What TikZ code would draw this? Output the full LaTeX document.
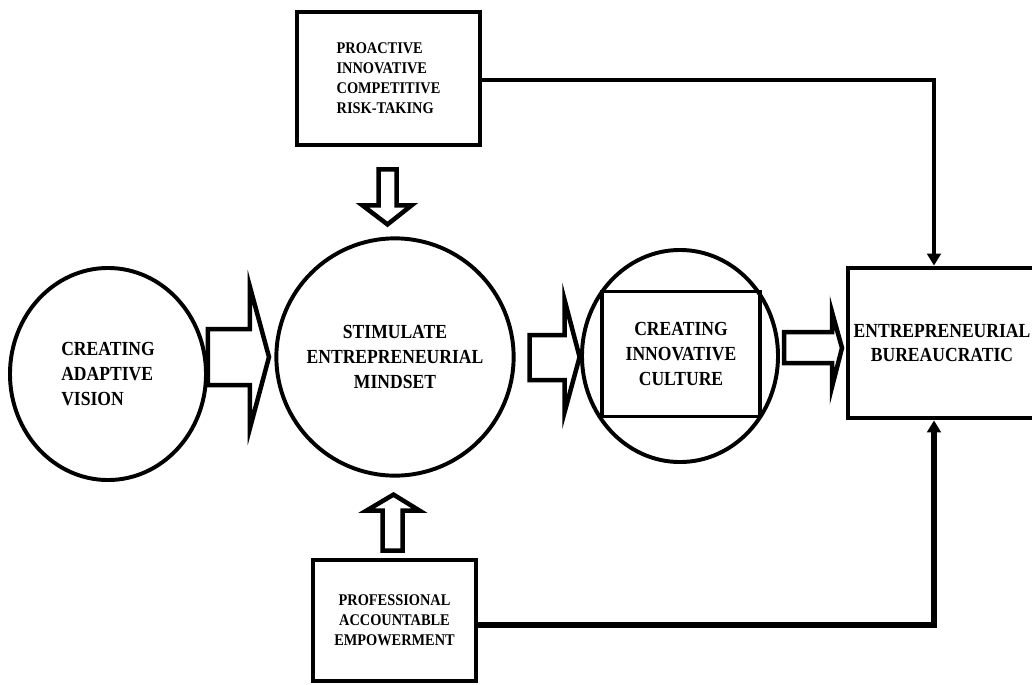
\documentclass[tikz,border=0pt]{standalone}
\usepackage{fontspec}
\setmainfont[FakeStretch=0.88]{Liberation Serif}
\usetikzlibrary{shapes.geometric,arrows.meta}

\begin{document}
\begin{tikzpicture}[x=0.025cm, y=-0.025cm,
  bigtext/.style={font=\bfseries\fontsize{14.2}{17.7}\selectfont},
  smalltext/.style={font=\bfseries\fontsize{11.6}{14.2}\selectfont},
  roundbox/.style={draw, line width=2.8pt, inner sep=0pt},
  squarebox/.style={draw, rectangle, line width=3.4pt, inner sep=0pt},
  hollow/.style={draw, line width=3.2pt, fill=white, line join=miter},
  link/.style={-{Triangle[length=0.3cm,width=0.34cm]}, line width=2.8pt}]
\clip (0,0) rectangle (1032,684);
\fill [white] (0,0) rectangle (1032,684);

\node (vision) [roundbox, ellipse, bigtext, align=left, minimum width=4.9cm, minimum height=5.3cm] at (108,374) {CREATING\\ADAPTIVE\\VISION};
\node (mindset) [roundbox, circle, bigtext, align=center, minimum size=5.93cm] at (395,357) {STIMULATE\\ENTREPRENEURIAL\\MINDSET};
\node (culture) [roundbox, ellipse, minimum width=4.9cm, minimum height=5.3cm] at (680,356) {};
\node (culturebox) [squarebox, line width=2.8pt, bigtext, align=center, minimum width=3.95cm, minimum height=3.125cm] at (681,354) {CREATING\\INNOVATIVE\\CULTURE};
\node (bureau) [squarebox, bigtext, align=center, minimum width=4.7cm, minimum height=3.75cm] at (942,343) {ENTREPRENEURIAL\\BUREAUCRATIC};
\node (traits) [squarebox, smalltext, align=left, minimum width=4.575cm, minimum height=3.325cm] at (388.5,78.5) {PROACTIVE\\INNOVATIVE\\COMPETITIVE\\RISK-TAKING};
\node (prof) [squarebox, smalltext, align=center, minimum width=4.075cm, minimum height=3.025cm] at (394.5,620.5) {PROFESSIONAL\\ACCOUNTABLE\\EMPOWERMENT};

\draw [hollow] (vision.east |- mindset) ++(0,-28) -- ++(42,0) -- ++(0,-42) -- ++(19,70) -- ++(-19,71) -- ++(0,-43) -- ++(-42,0) -- cycle;
\draw [hollow] (mindset.east) ++(14,-22) -- ++(35,0) -- ++(0,-35) -- ++(15,57) -- ++(-15,55) -- ++(0,-32) -- ++(-35,0) -- cycle;
\draw [hollow] (culture.east) ++(4,-24) -- ++(48,0) -- ++(0,-20) -- ++(10,36) -- ++(-10,39) -- ++(0,-24) -- ++(-48,0) -- cycle;
\draw [hollow] (traits.south) ++(-10,22) -- ++(18,0) -- ++(0,36) -- ++(15,0) -- ++(-24,19) -- ++(-25,-19) -- ++(16,0) -- cycle;
\draw [hollow] (prof.north) ++(-12,-7) -- ++(20,0) -- ++(0,-40) -- ++(17,0) -- ++(-26,-16) -- ++(-27,16) -- ++(16,0) -- cycle;

\coordinate (topbend) at (934,80);
\coordinate (botbend) at (934,625);
\draw [link] (traits.east |- topbend) -- (topbend) -- (topbend |- bureau.north);
\draw [link, line width=4pt] (prof.east |- botbend) -- (botbend) -- (botbend |- bureau.south);
\end{tikzpicture}
\end{document}
